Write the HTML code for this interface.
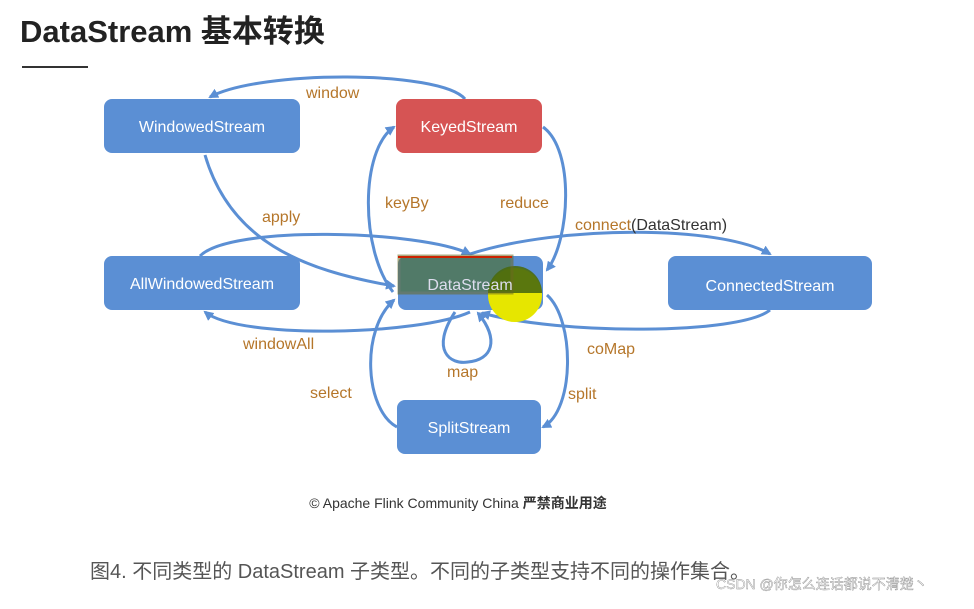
<!DOCTYPE html>
<html><head><meta charset="utf-8"><style>
body{margin:0;width:974px;height:604px;background:#fff;overflow:hidden;font-family:"Liberation Sans","Noto Sans CJK SC",sans-serif}
</style></head><body>
<svg width="974" height="604" viewBox="0 0 974 604" xmlns="http://www.w3.org/2000/svg" font-family="Liberation Sans, Noto Sans CJK SC, sans-serif">
<defs><marker id="a" markerWidth="10" markerHeight="10" refX="8" refY="5" orient="auto" markerUnits="userSpaceOnUse"><path d="M0,0 L10,5 L0,10 z" fill="#5b8fd4"/></marker></defs>
<text x="20" y="42" font-size="31" font-weight="bold" fill="#222">DataStream 基本转换</text>
<line x1="22" y1="67" x2="88" y2="67" stroke="#333" stroke-width="2"/>
<g fill="none" stroke="#5b8fd4" stroke-width="3" marker-end="url(#a)">
<path d="M465,99 C440,70 260,70 210,97"/>
<path d="M205,155 C230,240 300,270 394,286"/>
<path d="M393,292 C360,250 360,150 394,127"/>
<path d="M543,127 C575,150 570,240 547,270"/>
<path d="M470,254 C560,225 720,225 770,254"/>
<path d="M200,256 C230,225 420,230 470,254"/>
<path d="M470,312 C420,335 240,340 205,312"/>
<path d="M770,310 C740,335 560,335 482,313"/>
<path d="M455,312 C430,350 450,365 468,362 C492,360 500,340 478,313"/>
<path d="M397,427 C365,410 360,330 394,300"/>
<path d="M547,295 C575,320 575,410 543,427"/>
</g>
<g font-size="16" fill="#fff" text-anchor="middle">
<rect x="104" y="99" width="196" height="54" rx="8" fill="#5b8fd4"/><text x="202" y="132">WindowedStream</text>
<rect x="396" y="99" width="146" height="54" rx="8" fill="#d65454"/><text x="469" y="132">KeyedStream</text>
<rect x="104" y="256" width="196" height="54" rx="8" fill="#5b8fd4"/><text x="202" y="289">AllWindowedStream</text>
<rect x="398" y="256" width="145" height="54" rx="8" fill="#5b8fd4"/>
<rect x="668" y="256" width="204" height="54" rx="8" fill="#5b8fd4"/><text x="770" y="291">ConnectedStream</text>
<rect x="397" y="400" width="144" height="54" rx="8" fill="#5b8fd4"/><text x="469" y="433">SplitStream</text>
</g>
<circle cx="515" cy="295" r="27" fill="#e6e600"/>
<path d="M488,293 L542,293 A27,27 0 0 0 488,293 z" fill="#4a6a10" opacity="0.9"/>
<rect x="399" y="256" width="113" height="37" fill="#4a6a10" opacity="0.55" stroke="#6a6a20" stroke-width="3"/>
<line x1="398" y1="257" x2="512" y2="257" stroke="#cc2200" stroke-width="2"/>
<text x="470" y="290" font-size="16" fill="#dde" text-anchor="middle">DataStream</text>
<g font-size="16" fill="#b5762a">
<text x="306" y="98">window</text>
<text x="262" y="222">apply</text>
<text x="385" y="208">keyBy</text>
<text x="500" y="208">reduce</text>
<text x="575" y="230">connect<tspan fill="#333">(DataStream)</tspan></text>
<text x="243" y="349">windowAll</text>
<text x="587" y="354">coMap</text>
<text x="447" y="377">map</text>
<text x="310" y="398">select</text>
<text x="568" y="399">split</text>
</g>
<text x="458" y="508" font-size="14" fill="#333" text-anchor="middle">© Apache Flink Community China  <tspan font-weight="bold">严禁商业用途</tspan></text>
<text x="90" y="578" font-size="20" fill="#555">图4. 不同类型的 DataStream 子类型。不同的子类型支持不同的操作集合。</text>
<text x="716" y="589" font-size="14" fill="#fff" stroke="#888" stroke-width="0.4">CSDN @你怎么连话都说不清楚丶</text>
</svg>
</body></html>
